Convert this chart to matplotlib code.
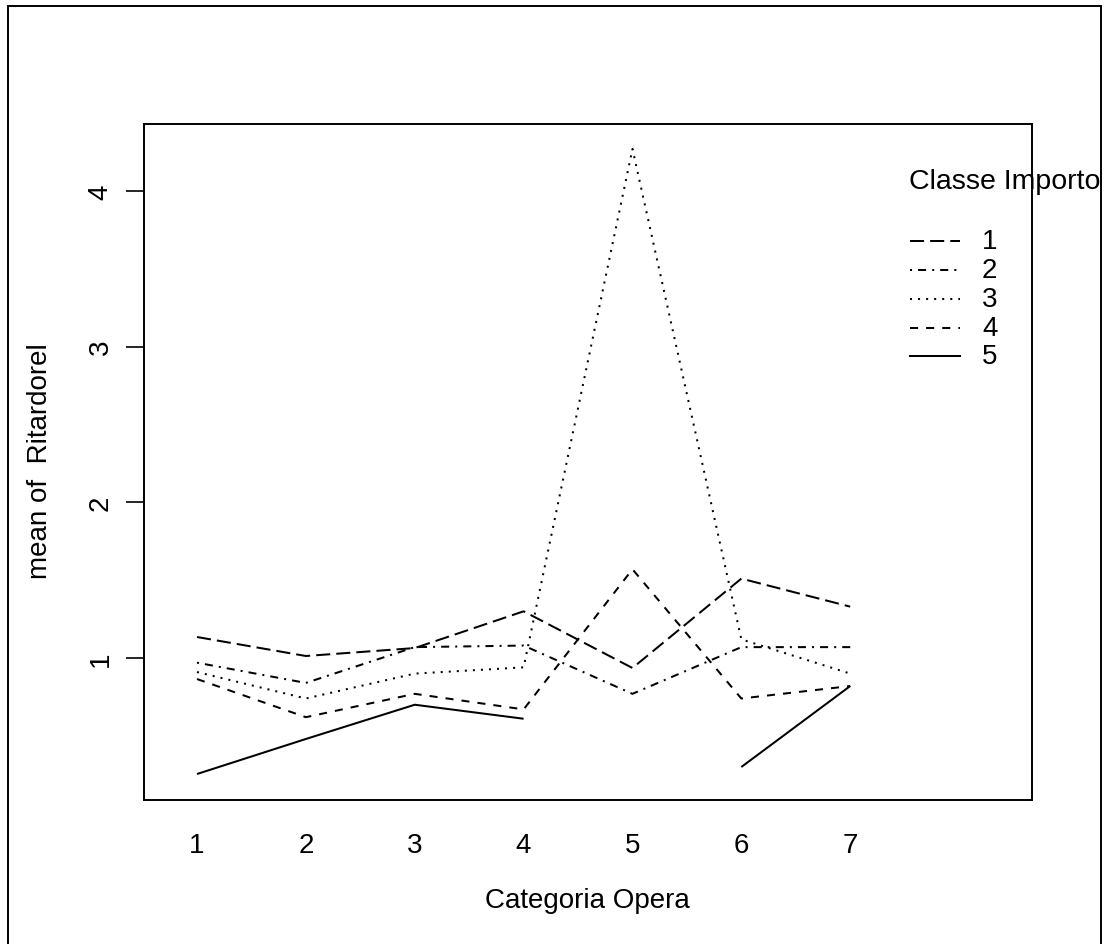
import numpy as np
import matplotlib
matplotlib.use("Agg")
import matplotlib.pyplot as plt
from matplotlib.lines import Line2D
from matplotlib.patches import Rectangle

plt.rcParams['font.family'] = ['Liberation Sans', 'DejaVu Sans']

categories = [1, 2, 3, 4, 5, 6, 7]
tick_labels = ["1", "2", "3", "4", "5", "6", "7"]
classes = ["1", "2", "3", "4", "5"]
class1 = [1.135, 1.013, 1.064, 1.30, 0.936, 1.51, 1.33]
class2 = [0.97, 0.84, 1.07, 1.08, 0.77, 1.07, 1.07]
class3 = [0.91, 0.74, 0.90, 0.94, 4.27, 1.12, 0.90]
class4 = [0.865, 0.62, 0.77, 0.67, 1.57, 0.74, 0.82]
class5 = [0.255, 0.48, 0.70, 0.61, np.nan, 0.30, 0.82]
series = [class1, class2, class3, class4, class5]

# R line types: longdash, dotdash, dotted, dashed, solid
dash_patterns = [(7, 3), (1, 3, 4, 3), (1, 3), (4, 4), None]

W, H = 1107, 945
fig = plt.figure(figsize=(W / 100, H / 100), dpi=100)
ax = fig.add_axes([144 / W, 1 - 800.7 / H, (1032 - 144) / W, (800.7 - 125) / H])

LW = 1.45
for vals, dp in zip(series, dash_patterns):
    if dp is None:
        ax.plot(categories, vals, color='black', lw=LW, solid_capstyle='butt')
    else:
        ax.plot(categories, vals, color='black', lw=LW, dashes=dp, dash_capstyle='butt')

ax.set_xlim(0.513, 8.67)
ax.set_ylim(0.09, 4.43)
ax.set_xticks(categories)
ax.set_xticklabels(tick_labels)
ax.set_yticks([1, 2, 3, 4])
ax.set_yticklabels(["1", "2", "3", "4"], rotation=90, va='center')
ax.tick_params(axis='x', length=0, pad=23, labelsize=20)
ax.tick_params(axis='y', length=13, width=1.2, pad=9, labelsize=20)
for s in ax.spines.values():
    s.set_linewidth(1.4)

fig.text(587 / W, 1 - 908 / H, "Categoria Opera", ha='center', va='baseline', fontsize=20)
fig.text(40 / W, 1 - 461 / H, "mean of  Ritardorel", ha='center', va='center',
         rotation=90, fontsize=20)

# legend
fig.text(909 / W, 1 - 182 / H, "Classe Importo", ha='left', va='center', fontsize=20.5)
leg_y = [242, 271, 300, 329, 357]
for lab, dp, yy in zip(classes, dash_patterns, leg_y):
    kw = dict(color='black', lw=LW, transform=fig.transFigure)
    if dp is not None:
        kw['dashes'] = dp
        kw['dash_capstyle'] = 'butt'
    fig.add_artist(Line2D([910 / W, 960 / W], [1 - yy / H, 1 - yy / H], **kw))
    fig.text(982 / W, 1 - yy / H, lab, ha='left', va='center', fontsize=20)

# outer frame
fig.add_artist(Rectangle((8 / W, -0.02), (1101 - 8) / W, 1.02 - 7 / H,
                         transform=fig.transFigure, fill=False, lw=1.4, ec='black'))

fig.savefig("out.png", dpi=100)
